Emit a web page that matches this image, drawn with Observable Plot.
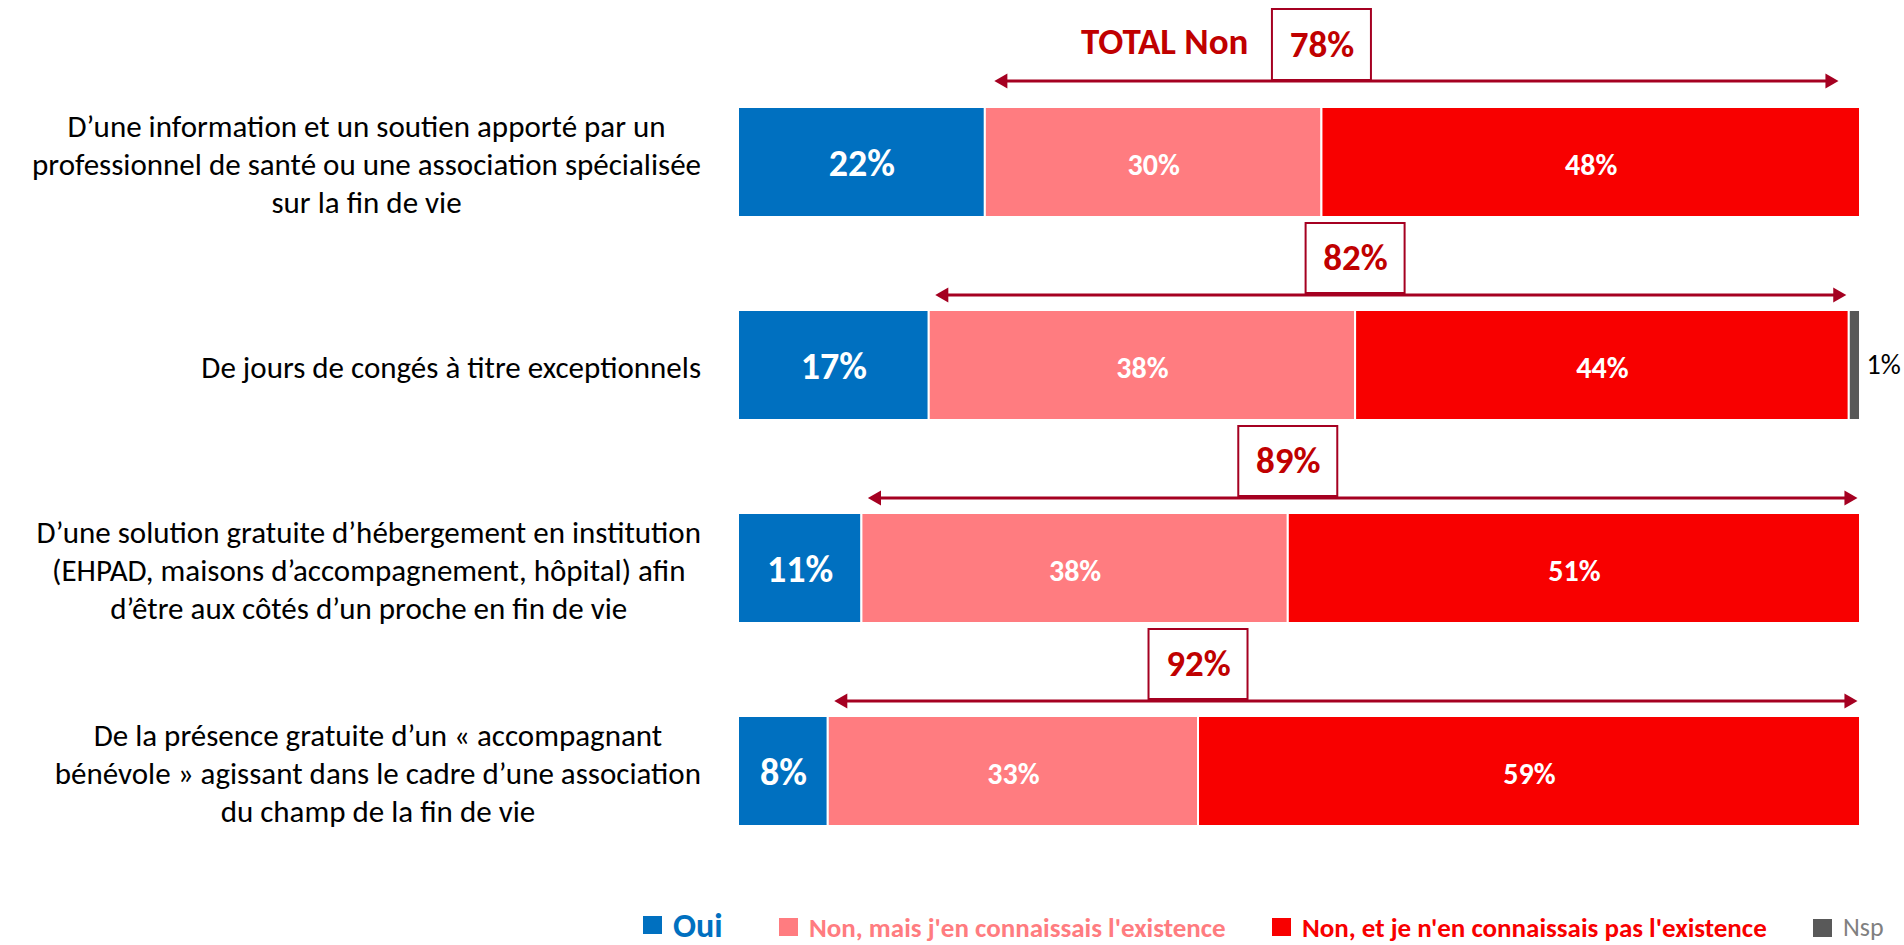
<!DOCTYPE html>
<html><head><meta charset="utf-8">
<script src="https://cdn.jsdelivr.net/npm/d3@7"></script>
<script src="https://cdn.jsdelivr.net/npm/@observablehq/plot@0.6"></script>
<style>
html,body{margin:0;padding:0;background:#fff;overflow:hidden;}
#chart svg{display:block}
#legend{position:relative;height:35px;font-family:Carlito,'Liberation Sans Narrow','Open Sans',sans-serif;}
.item{position:absolute;bottom:0;line-height:1.15;display:flex;align-items:center;white-space:nowrap;font-weight:bold;}
.sw{display:inline-block;width:19px;height:18px;margin-right:11px;flex:none;}
</style></head><body>
<div id="chart"></div><div id="legend"></div>
<script>
const questions = [
  "D’une information et un soutien apporté par un\nprofessionnel de santé ou une association spécialisée\nsur la fin de vie",
  "De jours de congés à titre exceptionnels",
  "D’une solution gratuite d’hébergement en institution\n(EHPAD, maisons d’accompagnement, hôpital) afin\nd’être aux côtés d’un proche en fin de vie",
  "De la présence gratuite d’un « accompagnant\nbénévole » agissant dans le cadre d’une association\ndu champ de la fin de vie"
];
const categories = ["Oui", "Non, mais j'en connaissais l'existence", "Non, et je n'en connaissais pas l'existence", "Nsp"];
const oui = [22, 17, 11, 8];
const nonMais = [30, 38, 38, 33];
const nonEt = [48, 44, 51, 59];
const nsp = [0, 1, 0, 0];
const totalNon = [78, 82, 89, 92];
const totalLabel = "TOTAL Non";
const colors = ["#0070C0", "#FF7C80", "#F80000", "#595959"];

const FONT = "Carlito, 'Liberation Sans Narrow', 'Open Sans', sans-serif";
const DARK = "#A50021", TXT = "#C00000";

const series = [oui, nonMais, nonEt, nsp];
const long = [];
questions.forEach((q, i) => categories.forEach((c, j) => long.push({q, cat: c, value: series[j][i]})));
const rows = questions.map((q, i) => ({
  q, i, oui: oui[i], mid: oui[i] + nonMais[i], end: oui[i] + nonMais[i] + nonEt[i], total: totalNon[i]
}));

function annot(data, o) {
  return [
    Plot.barX(data, {x1: "mid", x2: "mid", y: "q", insetLeft: -49.5, insetRight: -49.5,
      insetTop: o.boxTop, insetBottom: o.boxBottom, fill: "white", stroke: DARK, strokeWidth: 2}),
    Plot.ruleY(data, {y: "q", x1: "oui", x2: "end", stroke: DARK, strokeWidth: 3, dy: o.line,
      insetLeft: o.tipStart + 8, insetRight: o.tipEnd + 8}),
    Plot.dot(data, {x: "oui", y: "q", symbol: "triangle", rotate: -90, r: 5.6, fill: DARK, stroke: "none",
      dy: o.line, dx: o.tipStart + 8.7}),
    Plot.dot(data, {x: "end", y: "q", symbol: "triangle", rotate: 90, r: 5.6, fill: DARK, stroke: "none",
      dy: o.line, dx: -(o.tipEnd + 8.7)}),
    Plot.text(data, {x: "mid", y: "q", text: d => d.total + "%", dy: o.boxCenter, fill: TXT,
      fontWeight: "bold", fontSize: 37})
  ];
}

const chart = Plot.plot({
  width: 1904, height: 910,
  marginLeft: 738, marginRight: 44, marginTop: 24, marginBottom: 0,
  style: {fontFamily: FONT, background: "white"},
  x: {domain: [0, 100], axis: null},
  y: {domain: questions, axis: null, paddingInner: 0.456, paddingOuter: 0.4},
  color: {domain: categories, range: colors},
  marks: [
    Plot.barX(long, Plot.stackX({x: "value", y: "q", fill: "cat", stroke: "white", strokeWidth: 2})),
    Plot.text(long, Plot.stackX({x: "value", y: "q", text: d => d.cat === categories[0] ? d.value + "%" : null,
      fill: "white", fontWeight: "bold", fontSize: 38, dy: 1})),
    Plot.text(long, Plot.stackX({x: "value", y: "q",
      text: d => (d.cat === categories[1] || d.cat === categories[2]) ? d.value + "%" : null,
      fill: "white", fontWeight: "bold", fontSize: 30, dy: 3})),
    Plot.text(long, Plot.stackX2({x: "value", y: "q",
      text: d => d.cat === categories[3] && d.value > 0 ? d.value + "%" : null,
      fill: "black", fontSize: 28, textAnchor: "start", dx: 6})),
    Plot.text(questions, {y: d => d, text: d => d, frameAnchor: "left", dx: -380, textAnchor: "middle",
      fontSize: 31, lineHeight: 38 / 31, fill: "black"}),
    ...annot(rows.filter(d => d.i === 0), {line: -81.5, boxTop: -98, boxBottom: 137, boxCenter: -117.5, tipStart: 9, tipEnd: 22}),
    ...annot(rows.filter(d => d.i > 0), {line: -70.5, boxTop: -87, boxBottom: 127, boxCenter: -107, tipStart: 6, tipEnd: 3}),
    Plot.text(rows.filter(d => d.i === 0), {x: "mid", y: "q", text: () => totalLabel, dx: -73.5, dy: -120.5,
      textAnchor: "end", fill: TXT, fontWeight: "bold", fontSize: 37})
  ]
});
document.getElementById("chart").appendChild(chart);

// right-align each label block at x ≈ 700 (lines stay centred within the block)
const svg = document.querySelector("#chart svg");
const svgLeft = svg.getBoundingClientRect().left;
const flat = questions.map(q => q.replace(/\n/g, ""));
svg.querySelectorAll("text").forEach(el => {
  if (!flat.includes(el.textContent)) return;
  const b = el.getBoundingClientRect();
  const shift = 701 - (b.right - svgLeft);
  el.setAttribute("transform", `translate(${shift},0) ` + (el.getAttribute("transform") || ""));
});

// legend
const legendItems = [
  {label: categories[0], color: colors[0], text: colors[0], left: 643, size: 34, weight: "bold", bottom: 0},
  {label: categories[1], color: colors[1], text: colors[1], left: 779, size: 27, weight: "bold", bottom: 2},
  {label: categories[2], color: colors[2], text: colors[2], left: 1272, size: 27, weight: "bold", bottom: 2},
  {label: categories[3], color: colors[3], text: "#808080", left: 1813, size: 26, weight: "normal", bottom: 2}
];
const legend = d3.select("#legend");
legendItems.forEach(it => {
  const div = legend.append("div").attr("class", "item")
    .style("left", it.left + "px").style("bottom", it.bottom + "px").style("color", it.text)
    .style("font-size", it.size + "px").style("font-weight", it.weight);
  div.append("span").attr("class", "sw").style("background", it.color);
  div.append("span").text(it.label);
});
</script>
</body></html>
